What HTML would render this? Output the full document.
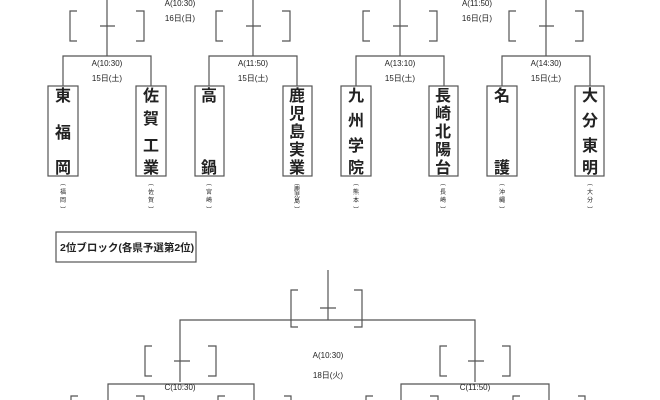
<!DOCTYPE html>
<html><head><meta charset="utf-8"><style>
html,body{margin:0;padding:0;background:#fff;}
svg{display:block;}
text{font-family:"Liberation Sans","Noto Sans CJK JP",sans-serif;fill:#222;}
</style></head><body>
<svg width="660" height="400" viewBox="0 0 660 400" xmlns="http://www.w3.org/2000/svg">
<g stroke="#555" stroke-width="1.2" fill="none">
<path d="M107 0V56M63 86V56H151V86"/>
<path d="M253 0V56M209 86V56H297V86"/>
<path d="M400 0V56M356 86V56H444V86"/>
<path d="M546 0V56M502 86V56H590V86"/>
<path d="M77 11H70V41H77M136 11H144V41H136M100 26H115"/>
<path d="M223 11H216V41H223M282 11H290V41H282M246 26H261"/>
<path d="M370 11H363V41H370M429 11H437V41H429M393 26H408"/>
<path d="M516 11H509V41H516M575 11H583V41H575M539 26H554"/>
<rect x="48" y="86" width="30" height="90"/>
<rect x="136" y="86" width="30" height="90"/>
<rect x="195" y="86" width="29" height="90"/>
<rect x="283" y="86" width="29" height="90"/>
<rect x="341" y="86" width="30" height="90"/>
<rect x="429" y="86" width="29" height="90"/>
<rect x="487" y="86" width="30" height="90"/>
<rect x="575" y="86" width="29" height="90"/>
<rect x="56" y="232" width="140" height="30"/>
<path d="M328 270V320M180 382V320H475V382"/>
<path d="M298 290H291V327H298M354 290H362V327H354M320 308H336"/>
<path d="M152 346H145V376H152M208 346H216V376H208M174 361H190"/>
<path d="M447 346H440V376H447M502 346H510V376H502M468 361H484"/>
<path d="M108 400V384H254V400M401 400V384H549V400"/>
<path d="M78 396H71V400M136 396H144V400M225 396H218V400M284 396H291V400M373 396H366V400M430 396H438V400M520 396H513V400M578 396H585V400"/>
</g>
<g font-size="8" text-anchor="middle">
<text x="180" y="6">A(10:30)</text><text x="180" y="21">16日(日)</text>
<text x="477" y="6">A(11:50)</text><text x="477" y="21">16日(日)</text>
<text x="107" y="66">A(10:30)</text><text x="107" y="81">15日(土)</text>
<text x="253" y="66">A(11:50)</text><text x="253" y="81">15日(土)</text>
<text x="400" y="66">A(13:10)</text><text x="400" y="81">15日(土)</text>
<text x="546" y="66">A(14:30)</text><text x="546" y="81">15日(土)</text>
<text x="328" y="358">A(10:30)</text><text x="328" y="378">18日(火)</text>
<text x="180" y="390">C(10:30)</text><text x="475" y="390">C(11:50)</text>
</g>
<g font-size="16" text-anchor="middle" font-weight="bold">
<text x="63" y="101">東</text><text x="63" y="138">福</text><text x="63" y="173">岡</text>
<text x="151" y="101">佐</text><text x="151" y="124">賀</text><text x="151" y="151">工</text><text x="151" y="173">業</text>
<text x="209" y="101">高</text><text x="209" y="173">鍋</text>
<text x="297" y="101">鹿</text><text x="297" y="119">児</text><text x="297" y="137">島</text><text x="297" y="155">実</text><text x="297" y="173">業</text>
<text x="356" y="101">九</text><text x="356" y="126">州</text><text x="356" y="151">学</text><text x="356" y="173">院</text>
<text x="443" y="101">長</text><text x="443" y="119">崎</text><text x="443" y="137">北</text><text x="443" y="155">陽</text><text x="443" y="173">台</text>
<text x="502" y="101">名</text><text x="502" y="173">護</text>
<text x="590" y="101">大</text><text x="590" y="126">分</text><text x="590" y="151">東</text><text x="590" y="173">明</text>
</g>
<g font-size="6" text-anchor="middle">
<text x="63" y="185">︵</text><text x="63" y="194">福</text><text x="63" y="202">岡</text><text x="63" y="212">︶</text>
<text x="151" y="185">︵</text><text x="151" y="194">佐</text><text x="151" y="202">賀</text><text x="151" y="212">︶</text>
<text x="209" y="185">︵</text><text x="209" y="194">宮</text><text x="209" y="202">崎</text><text x="209" y="212">︶</text>
<text x="297" y="185">︵</text><text x="297" y="191">鹿</text><text x="297" y="197">児</text><text x="297" y="203">島</text><text x="297" y="212">︶</text>
<text x="356" y="185">︵</text><text x="356" y="194">熊</text><text x="356" y="202">本</text><text x="356" y="212">︶</text>
<text x="443" y="185">︵</text><text x="443" y="194">長</text><text x="443" y="202">崎</text><text x="443" y="212">︶</text>
<text x="502" y="185">︵</text><text x="502" y="194">沖</text><text x="502" y="202">縄</text><text x="502" y="212">︶</text>
<text x="590" y="185">︵</text><text x="590" y="194">大</text><text x="590" y="202">分</text><text x="590" y="212">︶</text>
</g>
<text x="60" y="251" font-size="10.5" font-weight="bold">2位ブロック(各県予選第2位)</text>
</svg>
</body></html>
